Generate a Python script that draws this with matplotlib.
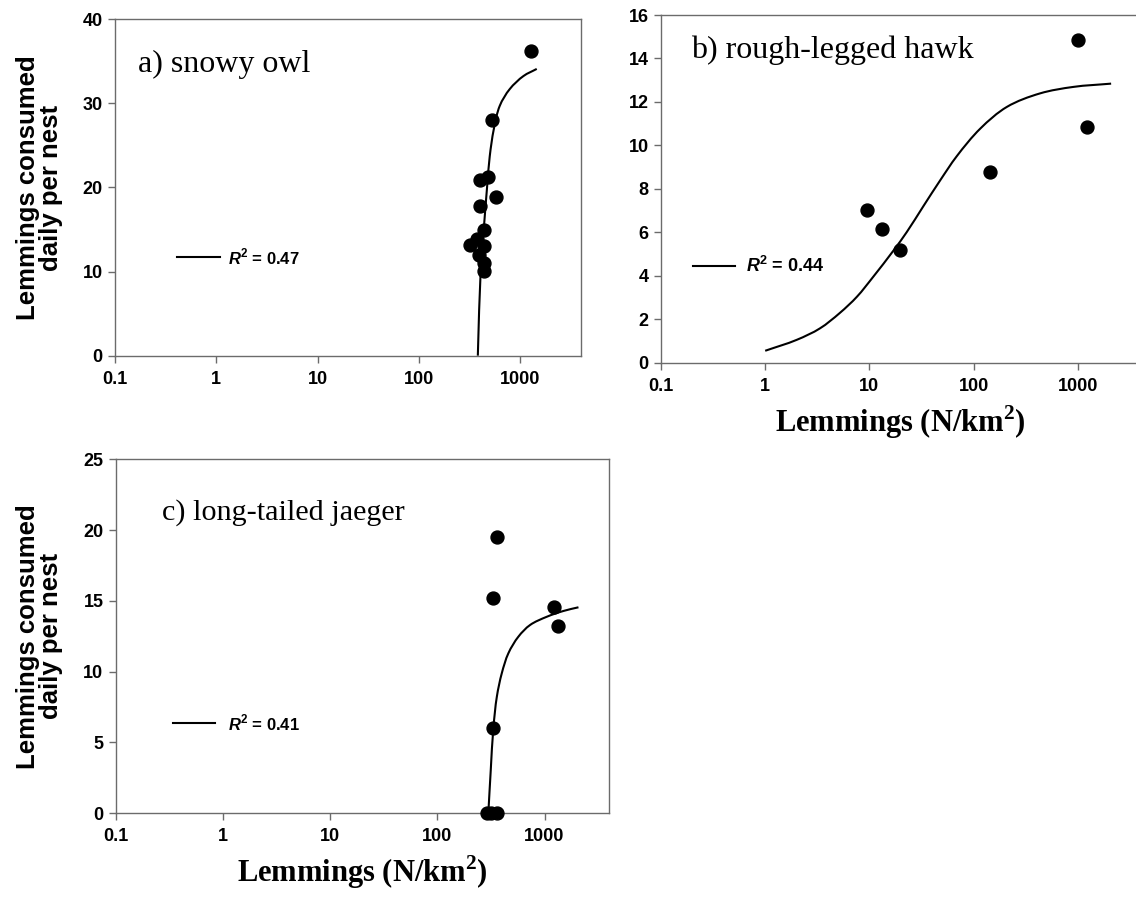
import matplotlib
matplotlib.use("Agg")
import numpy as np
import matplotlib.pyplot as plt
from matplotlib.path import Path
from matplotlib.patches import PathPatch
from matplotlib.font_manager import FontProperties
from matplotlib.ticker import FixedLocator, FixedFormatter, NullLocator

plt.rcParams['mathtext.fontset'] = 'custom'
plt.rcParams['mathtext.bf'] = 'Liberation Serif:bold'
plt.rcParams['mathtext.sf'] = 'Liberation Sans:italic:bold'
plt.rcParams['mathtext.tt'] = 'Liberation Sans:bold'
plt.rcParams['mathtext.rm'] = 'Liberation Serif'

# ---------------- data ----------------
x_ticks = [0.1, 1, 10, 100, 1000]
x_tick_labels = ["0.1", "1", "10", "100", "1000"]

# a) snowy owl
owl_x = [1285, 530, 483, 406, 575, 406, 445, 379, 320, 445, 393, 438, 438]
owl_y = [36.2, 28.0, 21.3, 20.9, 18.9, 17.8, 15.0, 13.9, 13.2, 13.1, 12.0, 11.0, 10.1]
owl_fit_x = [383, 409, 438, 473, 502, 550, 630, 791, 1080, 1462]
owl_fit_y = [0.0, 10.2, 15.0, 20.1, 23.7, 26.9, 29.7, 31.7, 33.25, 34.1]
owl_r2 = "0.47"
owl_yticks = [0, 10, 20, 30, 40]

# b) rough-legged hawk
hawk_x = [9.56, 13.3, 19.5, 145, 1000, 1236]
hawk_y = [7.01, 6.15, 5.17, 8.79, 14.86, 10.84]
hawk_fit_x = [1, 2.0, 3.35, 5.2, 7.6, 10.9, 17, 22.8, 33, 48, 69, 116, 209, 434, 910, 2090]
hawk_fit_y = [0.54, 1.04, 1.57, 2.28, 3.03, 3.95, 5.15, 6.0, 7.2, 8.4, 9.5, 10.77, 11.77, 12.39, 12.69, 12.84]
hawk_r2 = "0.44"
hawk_yticks = [0, 2, 4, 6, 8, 10, 12, 14, 16]

# c) long-tailed jaeger
jaeger_x = [359, 334, 1217, 1350, 330, 290, 320, 360]
jaeger_y = [19.48, 15.17, 14.53, 13.2, 5.98, 0, 0, 0]
jaeger_fit_x = [299, 315, 333, 359, 399, 460, 570, 734, 1050, 1503, 2075]
jaeger_fit_y = [0.0, 3.04, 5.98, 8.22, 9.87, 11.29, 12.46, 13.29, 13.87, 14.28, 14.54]
jaeger_r2 = "0.41"
jaeger_yticks = [0, 5, 10, 15, 20, 25]

# ---------------- figure ----------------
W, H = 1136, 897
fig = plt.figure(figsize=(W / 100, H / 100), dpi=100)
fig.patch.set_facecolor("white")

SPINE = "#6b6b6b"
TICKFONT = dict(family="Liberation Sans", weight="bold", size=13)


def px_axes(left, top, right, bottom):
    return fig.add_axes([left / W, 1 - bottom / H, (right - left) / W, (bottom - top) / H])


def style(ax, yticks, ylim):
    ax.set_xscale("log")
    ax.set_xlim(0.1, 4000)
    ax.set_ylim(*ylim)
    ax.xaxis.set_major_locator(FixedLocator(x_ticks))
    ax.xaxis.set_major_formatter(FixedFormatter(x_tick_labels))
    ax.xaxis.set_minor_locator(NullLocator())
    ax.set_yticks(yticks)
    ax.set_yticklabels([str(v) for v in yticks])
    for sp in ax.spines.values():
        sp.set_color(SPINE)
        sp.set_linewidth(1.0)
    ax.tick_params(axis="both", which="major", direction="out", length=5,
                   width=1.0, color=SPINE, labelcolor="black")
    ax.tick_params(axis="x", pad=6)
    ax.tick_params(axis="y", pad=4)
    for lab in ax.get_xticklabels() + ax.get_yticklabels():
        lab.set_fontproperties(FontProperties(**TICKFONT))


def smooth_line(ax, xs, ys, lw=1.5):
    """Draw a smooth (centripetal Catmull-Rom) line through the read points."""
    P = ax.transData.transform(np.column_stack([xs, ys]))
    n = len(P)
    ext = np.vstack([2 * P[0] - P[1], P, 2 * P[-1] - P[-2]])
    verts = [P[0]]
    codes = [Path.MOVETO]
    a = 0.5
    for i in range(1, n):
        p0, p1, p2, p3 = ext[i - 1], ext[i], ext[i + 1], ext[i + 2]
        d1 = max(np.linalg.norm(p1 - p0), 1e-6) ** a
        d2 = max(np.linalg.norm(p2 - p1), 1e-6) ** a
        d3 = max(np.linalg.norm(p3 - p2), 1e-6) ** a
        b1 = (d1 ** 2 * p2 - d2 ** 2 * p0 + (2 * d1 ** 2 + 3 * d1 * d2 + d2 ** 2) * p1) / (3 * d1 * (d1 + d2))
        b2 = (d3 ** 2 * p1 - d2 ** 2 * p3 + (2 * d3 ** 2 + 3 * d3 * d2 + d2 ** 2) * p2) / (3 * d3 * (d3 + d2))
        verts += [b1, b2, p2]
        codes += [Path.CURVE4] * 3
    verts = ax.transData.inverted().transform(np.array(verts))
    patch = PathPatch(Path(verts, codes), fill=False, edgecolor="black", lw=lw,
                      zorder=2, capstyle="butt")
    ax.add_patch(patch)


def legend(ax, x0, x1, y, tx, r2, size):
    ax.plot([x0, x1], [y, y], transform=ax.transAxes, color="black", lw=1.5,
            clip_on=False)
    ax.text(tx, y, r"$\mathsf{R}^{\mathtt{2}}$ = " + r2, transform=ax.transAxes,
            ha="left", va="center", family="Liberation Sans", weight="bold",
            size=size)


def panel_title(ax, x, y, s, size=23):
    ax.text(x, y, s, transform=ax.transAxes, ha="left", va="baseline",
            family="Liberation Serif", size=size)


YLABEL = "Lemmings consumed\ndaily per nest"
XLABEL = r"Lemmings (N/km$^{\mathbf{2}}$)"

# a)
axa = px_axes(115, 19.3, 581, 355.7)
style(axa, owl_yticks, (0, 40))
smooth_line(axa, owl_fit_x, owl_fit_y)
axa.plot(owl_x, owl_y, "o", color="black", ms=9.3, zorder=3, clip_on=False)
panel_title(axa, 0.049, 0.843, "a) snowy owl")
legend(axa, 0.133, 0.225, 0.294, 0.2425, owl_r2, 12)
axa.set_ylabel(YLABEL, family="Liberation Sans", weight="bold", size=18.5,
               linespacing=0.95)
axa.yaxis.set_label_coords(-0.1116, 0.5)

# b)
axb = px_axes(661, 15, 1140.5, 362.5)
style(axb, hawk_yticks, (0, 16))
smooth_line(axb, hawk_fit_x, hawk_fit_y)
axb.plot(hawk_x, hawk_y, "o", color="black", ms=9.3, zorder=3, clip_on=False)
panel_title(axb, 0.062, 0.875, "b) rough-legged hawk")
legend(axb, 0.0674, 0.154, 0.2786, 0.1779, hawk_r2, 13)
axb.set_xlabel(XLABEL, family="Liberation Serif", weight="bold", size=22,
               labelpad=6)

# c)
axc = px_axes(116, 459.3, 609, 813)
style(axc, jaeger_yticks, (0, 25))
smooth_line(axc, jaeger_fit_x, jaeger_fit_y)
axc.plot(jaeger_x, jaeger_y, "o", color="black", ms=9.3, zorder=3, clip_on=False)
panel_title(axc, 0.093, 0.83, "c) long-tailed jaeger", size=21.7)
legend(axc, 0.1156, 0.2008, 0.2545, 0.227, jaeger_r2, 12)
axc.set_ylabel(YLABEL, family="Liberation Sans", weight="bold", size=18.5,
               linespacing=0.95)
axc.yaxis.set_label_coords(-0.1075, 0.5)
axc.set_xlabel(XLABEL, family="Liberation Serif", weight="bold", size=22,
               labelpad=6)

fig.savefig("out.png", dpi=100, facecolor="white")
